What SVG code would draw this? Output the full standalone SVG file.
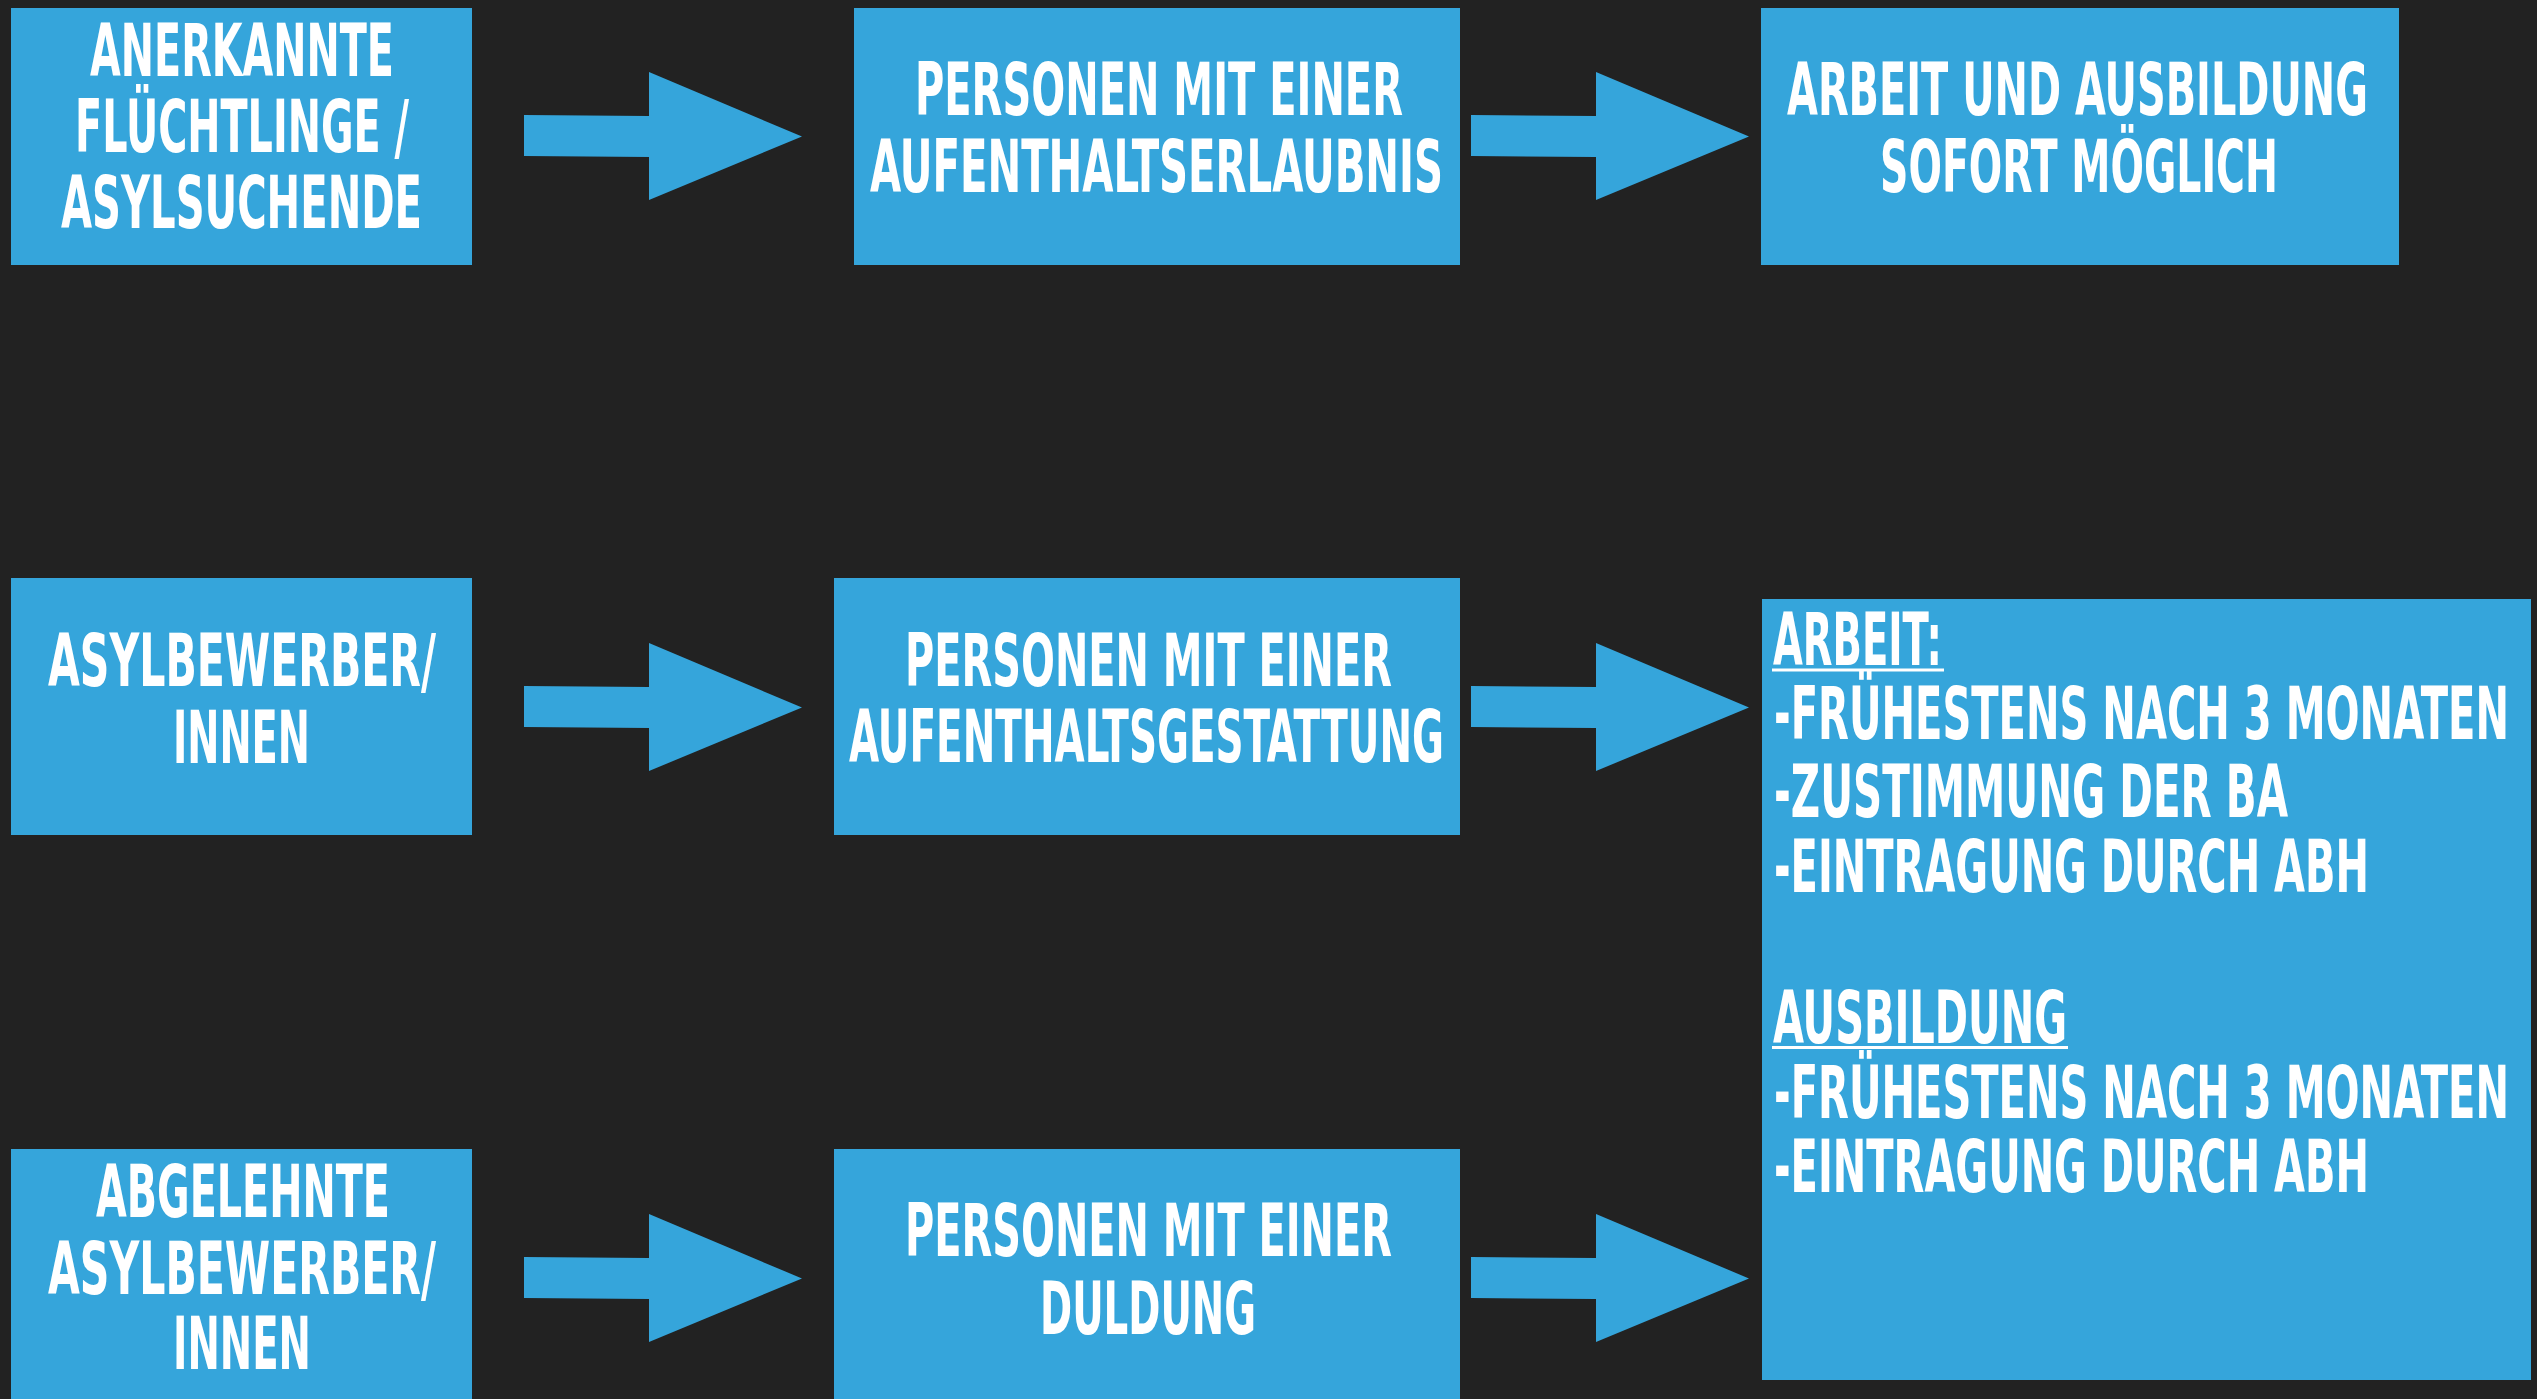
<svg xmlns="http://www.w3.org/2000/svg" xmlns:xlink="http://www.w3.org/1999/xlink" width="2537" height="1399" viewBox="0 0 2537 1399">
<style>
.box{fill:#35A5DB}
.t{fill:#FFFFFF;font-family:"Liberation Sans Narrow","DejaVu Sans Condensed","Liberation Sans",Arial,sans-serif;font-weight:bold;font-size:73px}
.arrow{fill:#35A5DB}
.ul{fill:#FFFFFF}
</style>
<defs>
<polygon id="arr" points="524,115 649,116 649,72 802,136.5 649,200 649,157 524,156"/>
</defs>
<rect x="0" y="0" width="2537" height="1399" fill="#222222"/>
<g id="connectors" class="arrow">
<use xlink:href="#arr"/>
<use xlink:href="#arr" transform="translate(947,0)"/>
<use xlink:href="#arr" transform="translate(0,571)"/>
<use xlink:href="#arr" transform="translate(947,571)"/>
<use xlink:href="#arr" transform="translate(0,1142)"/>
<use xlink:href="#arr" transform="translate(947,1142)"/>
</g>
<g id="node-anerkannte">
<rect class="box" x="11" y="8" width="461" height="257"/>
<text class="t" x="90" y="76" textLength="304" lengthAdjust="spacingAndGlyphs">ANERKANNTE</text>
<text class="t" x="75" y="152" textLength="334" lengthAdjust="spacingAndGlyphs">FLÜCHTLINGE /</text>
<text class="t" x="61" y="228" textLength="361" lengthAdjust="spacingAndGlyphs">ASYLSUCHENDE</text>
</g>
<g id="node-aufenthaltserlaubnis">
<rect class="box" x="854" y="8" width="606" height="257"/>
<text class="t" x="915" y="115" textLength="488" lengthAdjust="spacingAndGlyphs">PERSONEN MIT EINER</text>
<text class="t" x="870" y="192" textLength="573" lengthAdjust="spacingAndGlyphs">AUFENTHALTSERLAUBNIS</text>
</g>
<g id="node-sofort">
<rect class="box" x="1761" y="8" width="638" height="257"/>
<text class="t" x="1787" y="115" textLength="581" lengthAdjust="spacingAndGlyphs">ARBEIT UND AUSBILDUNG</text>
<text class="t" x="1880" y="192" textLength="398" lengthAdjust="spacingAndGlyphs">SOFORT MÖGLICH</text>
</g>
<g id="node-asylbewerber">
<rect class="box" x="11" y="578" width="461" height="257"/>
<text class="t" x="48" y="686" textLength="388" lengthAdjust="spacingAndGlyphs">ASYLBEWERBER/</text>
<text class="t" x="173" y="763" textLength="137" lengthAdjust="spacingAndGlyphs">INNEN</text>
</g>
<g id="node-aufenthaltsgestattung">
<rect class="box" x="834" y="578" width="626" height="257"/>
<text class="t" x="905" y="686" textLength="487" lengthAdjust="spacingAndGlyphs">PERSONEN MIT EINER</text>
<text class="t" x="849" y="762" textLength="595" lengthAdjust="spacingAndGlyphs">AUFENTHALTSGESTATTUNG</text>
</g>
<g id="node-abgelehnte">
<rect class="box" x="11" y="1149" width="461" height="257"/>
<text class="t" x="96" y="1217" textLength="294" lengthAdjust="spacingAndGlyphs">ABGELEHNTE</text>
<text class="t" x="48" y="1294" textLength="388" lengthAdjust="spacingAndGlyphs">ASYLBEWERBER/</text>
<text class="t" x="173" y="1369" textLength="138" lengthAdjust="spacingAndGlyphs">INNEN</text>
</g>
<g id="node-duldung">
<rect class="box" x="834" y="1149" width="626" height="257"/>
<text class="t" x="905" y="1256" textLength="487" lengthAdjust="spacingAndGlyphs">PERSONEN MIT EINER</text>
<text class="t" x="1040" y="1334" textLength="216" lengthAdjust="spacingAndGlyphs">DULDUNG</text>
</g>
<g id="node-bedingungen">
<rect class="box" x="1762" y="599" width="769" height="781"/>
<text class="t" x="1773" y="665" textLength="169" lengthAdjust="spacingAndGlyphs">ARBEIT:</text>
<rect class="ul" x="1772" y="668.5" width="172" height="3"/>
<text class="t" x="1774" y="739" textLength="735" lengthAdjust="spacingAndGlyphs">-FRÜHESTENS NACH 3 MONATEN</text>
<text class="t" x="1774" y="817" textLength="514" lengthAdjust="spacingAndGlyphs">-ZUSTIMMUNG DER BA</text>
<text class="t" x="1774" y="892" textLength="595" lengthAdjust="spacingAndGlyphs">-EINTRAGUNG DURCH ABH</text>
<text class="t" x="1773" y="1043" textLength="294" lengthAdjust="spacingAndGlyphs">AUSBILDUNG</text>
<rect class="ul" x="1772" y="1046" width="296" height="3"/>
<text class="t" x="1774" y="1118" textLength="735" lengthAdjust="spacingAndGlyphs">-FRÜHESTENS NACH 3 MONATEN</text>
<text class="t" x="1774" y="1192" textLength="595" lengthAdjust="spacingAndGlyphs">-EINTRAGUNG DURCH ABH</text>
</g>
</svg>
